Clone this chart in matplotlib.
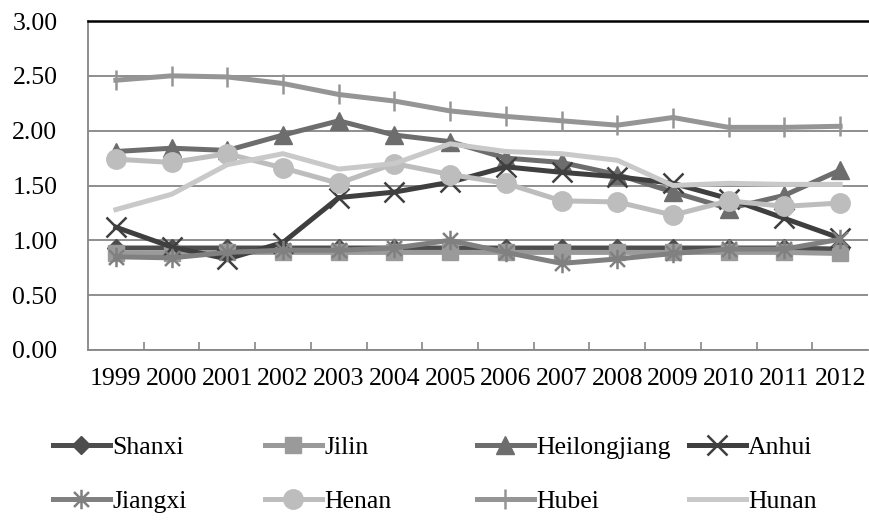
import matplotlib.pyplot as plt
import numpy as np
from matplotlib.path import Path
from matplotlib.ticker import FixedLocator

years = ['1999', '2000', '2001', '2002', '2003', '2004', '2005',
         '2006', '2007', '2008', '2009', '2010', '2011', '2012']

shanxi = [0.93, 0.93, 0.93, 0.93, 0.93, 0.93, 0.93, 0.93, 0.93, 0.93, 0.93, 0.93, 0.93, 0.92]
jilin = [0.88, 0.88, 0.89, 0.89, 0.89, 0.89, 0.89, 0.89, 0.89, 0.89, 0.89, 0.89, 0.89, 0.88]
heilongjiang = [1.81, 1.84, 1.82, 1.96, 2.09, 1.96, 1.90, 1.75, 1.71, 1.60, 1.44, 1.29, 1.41, 1.64]
anhui = [1.12, 0.94, 0.83, 0.98, 1.39, 1.44, 1.53, 1.67, 1.62, 1.58, 1.52, 1.38, 1.20, 1.02]
jiangxi = [0.85, 0.84, 0.89, 0.91, 0.91, 0.93, 1.00, 0.89, 0.79, 0.83, 0.88, 0.92, 0.92, 1.01]
henan = [1.74, 1.71, 1.79, 1.66, 1.52, 1.70, 1.60, 1.52, 1.36, 1.35, 1.23, 1.36, 1.31, 1.34]
hubei = [2.46, 2.50, 2.49, 2.43, 2.33, 2.27, 2.18, 2.13, 2.09, 2.05, 2.12, 2.03, 2.03, 2.04]
hunan = [1.28, 1.42, 1.69, 1.79, 1.65, 1.70, 1.88, 1.81, 1.79, 1.73, 1.50, 1.52, 1.51, 1.51]

names = ['Shanxi', 'Jilin', 'Heilongjiang', 'Anhui', 'Jiangxi', 'Henan', 'Hubei', 'Hunan']
series = [shanxi, jilin, heilongjiang, anhui, jiangxi, henan, hubei, hunan]
colors = ['#4d4d4d', '#9a9a9a', '#6d6d6d', '#3f3f3f', '#808080', '#bdbdbd', '#959595', '#c9c9c9']

# excel style star: an x with a vertical stroke through it
star = Path([(-1, -1), (1, 1), (-1, 1), (1, -1), (0, -1.3), (0, 1.3)],
            [Path.MOVETO, Path.LINETO, Path.MOVETO, Path.LINETO, Path.MOVETO, Path.LINETO])
markers = ['D', 's', '^', 'x', star, 'o', '|', None]
msizes = [9, 12, 13, 14, 14, 14, 14, 0]
filled = [True, True, True, False, False, True, False, True]

plt.rcParams['font.family'] = ['Liberation Serif', 'DejaVu Serif']
plt.rcParams['font.size'] = 18.5

fig = plt.figure(figsize=(8.69, 5.20), dpi=100)
ax = fig.add_axes([88 / 869, 170 / 520, 780 / 869, 329 / 520])

x = np.arange(len(years))
lines = []
for s, name, c, m, ms, f in zip(series, names, colors, markers, msizes, filled):
    ln, = ax.plot(x, s, color=c, lw=3.6, marker=m, markersize=ms,
                  markerfacecolor=c, markeredgecolor=c,
                  markeredgewidth=1.0 if f else 1.8,
                  solid_joinstyle='round', label=name)
    lines.append(ln)

ax.set_xlim(-0.5, 13.5)
ax.set_ylim(0, 3)
ax.set_yticks(np.arange(0, 3.01, 0.5))
ax.set_yticklabels(['%.2f' % v for v in np.arange(0, 3.01, 0.5)])
ax.set_xticks(x)
ax.set_xticklabels(years)
ax.xaxis.set_minor_locator(FixedLocator(np.arange(0.5, 13.5, 1)))
ax.tick_params(axis='x', which='major', length=0, pad=13)
ax.tick_params(axis='x', which='minor', direction='in', length=6, width=1.2, color='#868686')
ax.tick_params(axis='y', length=0, pad=22)

ax.grid(axis='y', color='#868686', lw=1.3)
ax.set_axisbelow(True)
for side in ['left', 'bottom']:
    ax.spines[side].set_color('#868686')
    ax.spines[side].set_linewidth(1.3)
ax.spines['top'].set_color('black')
ax.spines['top'].set_linewidth(1.8)
ax.spines['right'].set_visible(False)

# legend laid out in equal-width columns like the original
col_x = [53, 265, 477, 689]
for i in range(4):
    handles = [lines[i], lines[i + 4]]
    fig.legend(handles=handles, loc='upper left',
               bbox_to_anchor=(col_x[i] / 869, 1 - 436 / 520),
               frameon=False, borderpad=0, borderaxespad=0,
               handlelength=2.2, handletextpad=0.1, labelspacing=1.2,
               fontsize=18.5)

fig.savefig('out.png', dpi=100)
